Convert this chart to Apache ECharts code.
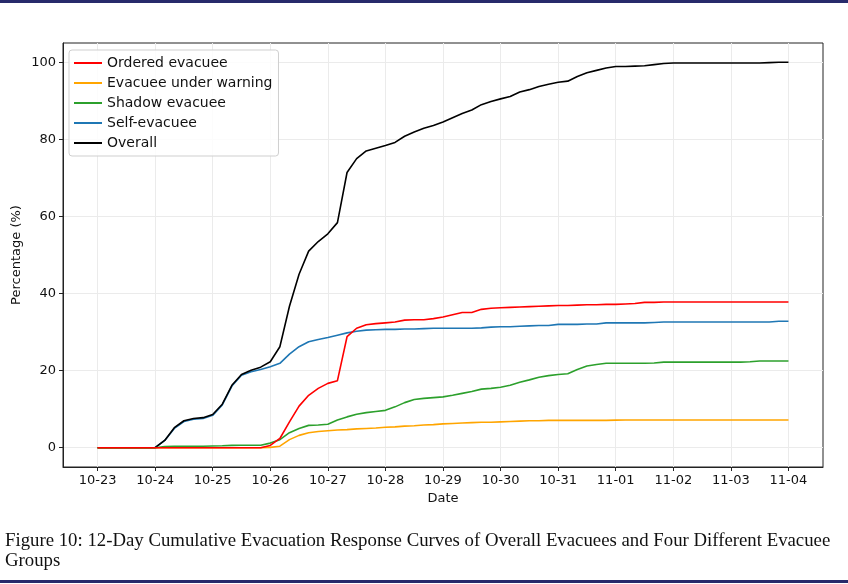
<!DOCTYPE html>
<html>
<head>
<meta charset="utf-8">
<script src="https://cdn.jsdelivr.net/npm/echarts@6/dist/echarts.min.js"></script>
<style>html,body{margin:0;padding:0;background:#fff;}#c{width:848px;height:584px;}</style>
</head>
<body>
<div id="c"></div>
<script>
// time in hours since 10-23 00:00 (4-hour steps)
const hours = [0,4,8,12,16,20, 24,28,32,36,40,44, 48,52,56,60,64,68, 72,76,80,84,88,92,
  96,100,104,108,112,116, 120,124,128,132,136,140, 144,148,152,156,160,164,
  168,172,176,180,184,188, 192,196,200,204,208,212, 216,220,224,228,232,236,
  240,244,248,252,256,260, 264,268,272,276,280,284, 288];
const tickHours = [0,24,48,72,96,120,144,168,192,216,240,264,288];
const tickLabels = ['10-23','10-24','10-25','10-26','10-27','10-28','10-29','10-30','10-31','11-01','11-02','11-03','11-04'];
const yTicks = [0,20,40,60,80,100];

const ordered = [0,0,0,0,0,0, 0,0,0,0,0,0, 0,0,0,0,0,0,
  0.6,2.4,6.7,10.8,13.6,15.4, 16.7,17.4,28.8,31.0,31.9,32.2, 32.4,32.6,33.1,33.2,33.2,33.5,
  33.9,34.5,35.1,35.1,35.9,36.2, 36.3,36.4,36.5,36.6,36.7,36.8, 36.9,36.9,37.0,37.1,37.1,37.2,
  37.2,37.3,37.4,37.7,37.7,37.8, 37.8,37.8,37.8,37.8,37.8,37.8, 37.8,37.8,37.8,37.8,37.8,37.8, 37.8];
const warning = [0,0,0,0,0,0, 0,0,0,0,0,0, 0,0,0,0,0,0,
  0.1,0.4,2.1,3.2,3.9,4.2, 4.4,4.6,4.7,4.9,5.0,5.1, 5.3,5.4,5.6,5.7,5.9,6.0,
  6.2,6.3,6.4,6.5,6.6,6.6, 6.7,6.8,6.9,7.0,7.0,7.1, 7.1,7.1,7.1,7.1,7.1,7.1,
  7.15,7.2,7.2,7.2,7.2,7.2, 7.2,7.2,7.2,7.2,7.2,7.2, 7.2,7.2,7.2,7.2,7.2,7.2, 7.2];
const shadow = [0,0,0,0,0,0, 0,0.3,0.4,0.4,0.4,0.4, 0.45,0.5,0.6,0.65,0.65,0.65,
  1.2,2.1,3.9,5.0,5.8,5.9, 6.1,7.2,8.0,8.7,9.1,9.4, 9.7,10.6,11.7,12.5,12.8,13.0,
  13.2,13.6,14.1,14.6,15.2,15.4, 15.7,16.2,17.0,17.6,18.3,18.7, 19.0,19.2,20.3,21.2,21.6,21.9,
  21.9,21.9,21.9,21.9,22.0,22.2, 22.2,22.2,22.2,22.2,22.2,22.2, 22.2,22.2,22.3,22.5,22.5,22.5, 22.5];
const selfEv = [0,0,0,0,0,0, 0,1.9,5.0,6.8,7.4,7.6, 8.4,11.1,16.0,18.8,19.7,20.3,
  21.0,21.9,24.3,26.2,27.5,28.1, 28.6,29.2,29.8,30.2,30.5,30.6, 30.7,30.7,30.8,30.8,30.9,31.0,
  31.0,31.0,31.0,31.0,31.1,31.3, 31.4,31.4,31.5,31.6,31.7,31.7, 32.0,32.0,32.0,32.1,32.1,32.4,
  32.4,32.4,32.4,32.4,32.5,32.6, 32.6,32.6,32.6,32.6,32.6,32.6, 32.6,32.6,32.6,32.6,32.6,32.8, 32.8];
const overall = [0,0,0,0,0,0, 0,1.9,5.2,7.0,7.6,7.8, 8.6,11.3,16.2,19.0,20.1,20.9,
  22.3,26.2,36.7,45.0,51.0,53.5, 55.5,58.4,71.4,75.0,77.0,77.7, 78.4,79.2,80.8,81.9,82.9,83.6,
  84.5,85.6,86.7,87.6,89.0,89.8, 90.5,91.1,92.3,92.9,93.7,94.3, 94.8,95.1,96.3,97.3,97.9,98.5,
  98.9,98.9,99.0,99.1,99.4,99.7, 99.8,99.8,99.8,99.8,99.8,99.8, 99.8,99.8,99.8,99.8,99.9,100.0, 100.0];

const names = ['Ordered evacuee','Evacuee under warning','Shadow evacuee','Self-evacuee','Overall'];
const pair = arr => hours.map((h,i)=>[h, arr[i]]);
const F = 'DejaVu Sans';

function mk(name, arr, color){
  return {name, type:'line', data:pair(arr), symbol:'none', showSymbol:false,
    lineStyle:{color, width:1.6}, itemStyle:{color}, emphasis:{disabled:true}};
}

const chart = echarts.init(document.getElementById('c'), null, {renderer:'canvas'});
chart.setOption({
  animation:false,
  backgroundColor:'#fff',
  grid:{left:63, right:25, top:43, bottom:117, show:true, borderColor:'#222', borderWidth:1, backgroundColor:'transparent'},
  legend:{
    data:names.map(n=>({name:n})), orient:'vertical', left:69, top:50,
    icon:'rect', itemWidth:28, itemHeight:2, itemGap:6, itemTextGap:10,
    padding:[6,6,6,5], backgroundColor:'rgba(255,255,255,0.85)', borderColor:'#cfcfcf', borderWidth:1, borderRadius:3,
    textStyle:{fontFamily:F, fontSize:14, color:'#111', lineHeight:14}, selectedMode:false
  },
  xAxis:{type:'value', min:-14.4, max:302.4,
    name:'Date', nameLocation:'middle', nameGap:25, nameTextStyle:{fontFamily:F, fontSize:13, color:'#111'},
    axisLine:{show:true, onZero:false, lineStyle:{color:'#222', width:1}},
    axisTick:{show:true, inside:false, length:4, customValues:tickHours, lineStyle:{color:'#222'}},
    axisLabel:{customValues:tickHours, fontFamily:F, fontSize:13, color:'#111', margin:7,
      formatter:v=>tickLabels[tickHours.indexOf(v)] || ''},
    splitLine:{show:true, lineStyle:{color:'#ebebeb', width:1}}
  },
  yAxis:{type:'value', min:-5, max:105,
    name:'Percentage (%)', nameLocation:'middle', nameGap:40, nameRotate:90, nameMoveOverlap:false,
    nameTextStyle:{fontFamily:F, fontSize:13, color:'#111'},
    axisLine:{show:true, onZero:false, lineStyle:{color:'#222', width:1}},
    axisTick:{show:true, inside:false, length:4, customValues:yTicks, lineStyle:{color:'#222'}},
    axisLabel:{customValues:yTicks, fontFamily:F, fontSize:13, color:'#111', margin:7},
    splitLine:{show:true, lineStyle:{color:'#ebebeb', width:1}}
  },
  series:[
    mk(names[3], selfEv, '#1f77b4'),
    mk(names[4], overall, '#000000'),
    mk(names[1], warning, '#ffa500'),
    mk(names[2], shadow, '#2ca02c'),
    mk(names[0], ordered, '#ff0000')
  ],
  graphic:[
    {type:'rect', shape:{x:0, y:0, width:848, height:3}, style:{fill:'#272a6b'}, silent:true},
    {type:'rect', shape:{x:0, y:580, width:848, height:3}, style:{fill:'#272a6b'}, silent:true},
    {type:'text', left:5, top:532, style:{text:'Figure 10: 12-Day Cumulative Evacuation Response Curves of Overall Evacuees and Four Different Evacuee', font:'18.8px "Liberation Serif"', fill:'#111'}},
    {type:'text', left:5, top:552, style:{text:'Groups', font:'18.8px "Liberation Serif"', fill:'#111'}}
  ]
});
</script>
</body>
</html>
